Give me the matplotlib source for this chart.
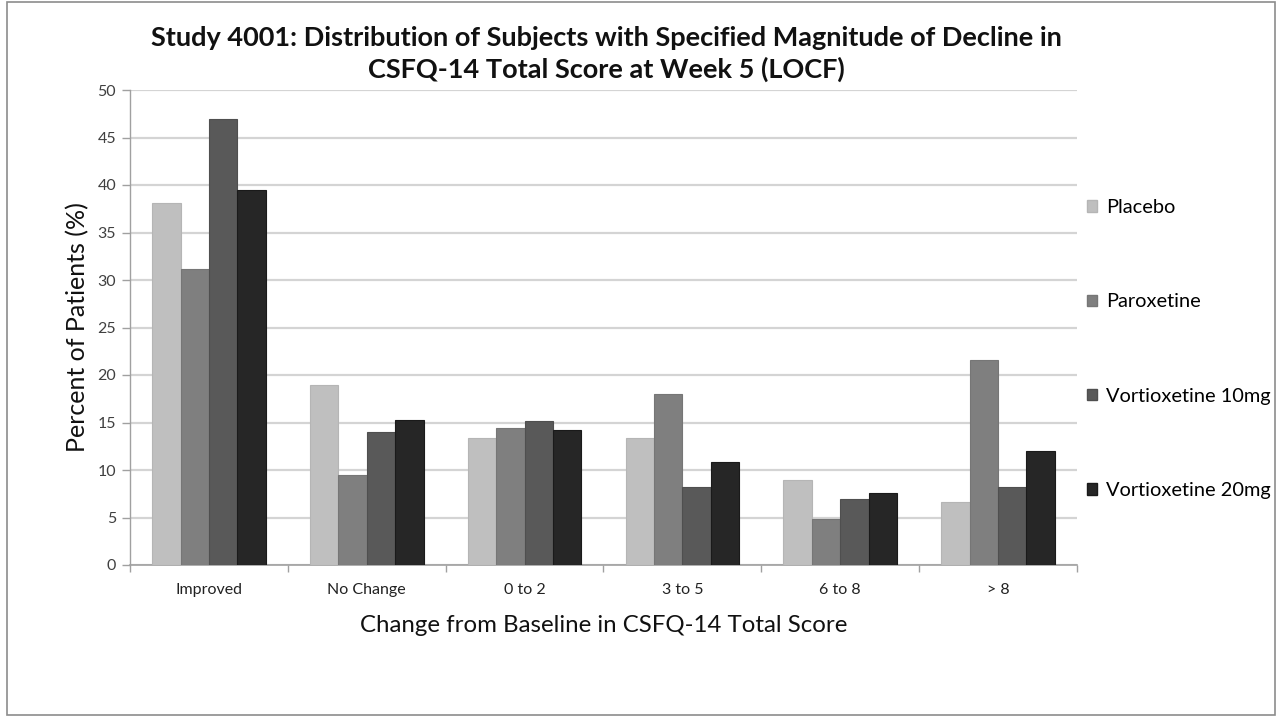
import matplotlib
matplotlib.use("Agg")
import matplotlib.pyplot as plt
import numpy as np
from matplotlib.patches import Patch, Rectangle

categories = ["Improved", "No Change", "0 to 2", "3 to 5", "6 to 8", "> 8"]
series_names = ["Placebo", "Paroxetine", "Vortioxetine 10mg", "Vortioxetine 20mg"]
placebo = [38.1, 19.0, 13.4, 13.4, 8.9, 6.6]
paroxetine = [31.2, 9.5, 14.4, 18.0, 4.8, 21.6]
vort10 = [46.9, 14.0, 15.2, 8.2, 6.9, 8.2]
vort20 = [39.5, 15.3, 14.2, 10.8, 7.6, 12.0]
yticks = [0, 5, 10, 15, 20, 25, 30, 35, 40, 45, 50]

colors = ["#BFBFBF", "#7F7F7F", "#595959", "#262626"]
edges = ["#B5B5B5", "#767676", "#4F4F4F", "#1A1A1A"]

plt.rcParams['font.family'] = ['Lato', 'DejaVu Sans']

W, H = 1276, 717
fig = plt.figure(figsize=(W / 100, H / 100), dpi=100)
ax = fig.add_axes([130 / W, 1 - 565 / H, (1077 - 130) / W, (565 - 90) / H])

x = np.arange(len(categories))
bw = 0.18
data = [placebo, paroxetine, vort10, vort20]
for i, vals in enumerate(data):
    ax.bar(x + (i - 1.5) * bw, vals, width=bw, color=colors[i],
           edgecolor=edges[i], linewidth=0.8, zorder=3)

ax.set_xlim(-0.5, len(categories) - 0.5)
ax.set_ylim(0, 50)
ax.set_yticks(yticks)
ax.set_yticklabels([str(v) for v in yticks], fontsize=11.5, color="#404040")
ax.yaxis.grid(True, color="#D4D4D4", linewidth=1.6, zorder=0)
ax.set_axisbelow(True)

ax.set_xticks(x)
ax.set_xticklabels(categories, fontsize=11.5, color="#222222")
ax.tick_params(axis='x', length=0, pad=13)
ax.set_xticks(np.arange(-0.5, len(categories), 1.0), minor=True)
ax.tick_params(axis='x', which='minor', length=5, color="#A0A0A0", width=1)
ax.tick_params(axis='y', length=6, color="#A0A0A0", width=1, pad=4)

for s in ["top", "right"]:
    ax.spines[s].set_visible(False)
ax.spines["left"].set_color("#A0A0A0")
ax.spines["bottom"].set_color("#A0A0A0")
ax.spines["left"].set_linewidth(1)
ax.spines["bottom"].set_linewidth(1.2)

ax.set_ylabel("Percent of Patients (%)", fontsize=18, color="#111111", labelpad=6)
ax.set_xlabel("Change from Baseline in CSFQ-14 Total Score", fontsize=17.3,
              color="#111111", labelpad=13)

fig.text(606 / W, 1 - 54 / H,
         "Study 4001: Distribution of Subjects with Specified Magnitude of Decline in\nCSFQ-14 Total Score at Week 5 (LOCF)",
         ha="center", va="center", fontsize=19.5, fontweight="bold",
         linespacing=1.3, color="#111111")

handles = [Patch(facecolor=colors[i], edgecolor=edges[i], label=series_names[i])
           for i in range(4)]
leg = fig.legend(handles=handles, loc="center left",
                 bbox_to_anchor=(1087 / W, 1 - 349 / H), frameon=False,
                 fontsize=14.4, handlelength=0.5, handleheight=0.5,
                 handletextpad=0.45, labelspacing=3.87, borderpad=0.0,
                 borderaxespad=0.0)

fig.patches.append(Rectangle((7 / W, 2 / H), (1275 - 7) / W, (715 - 2) / H,
                             transform=fig.transFigure, fill=False,
                             edgecolor="#8C8C8C", linewidth=1.2))

fig.savefig("out.png", dpi=100)
